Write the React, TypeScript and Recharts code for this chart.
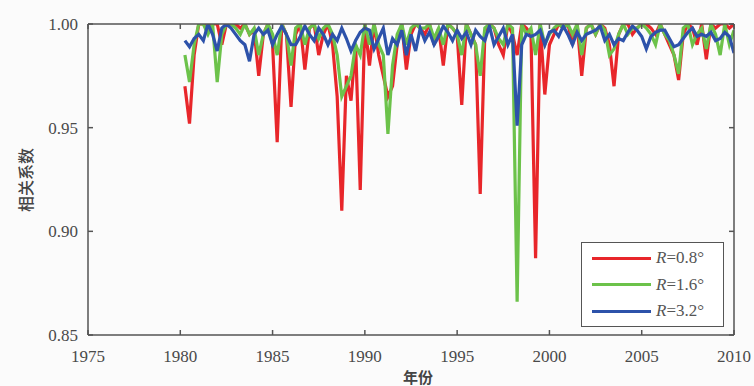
import { LineChart, Line, XAxis, YAxis, ReferenceLine } from "recharts";

// one value per quarter, years 1980..2009 (points at year+0.25 .. year+1.0)
const years = [
  1980, 1981, 1982, 1983, 1984, 1985, 1986, 1987, 1988, 1989,
  1990, 1991, 1992, 1993, 1994, 1995, 1996, 1997, 1998, 1999,
  2000, 2001, 2002, 2003, 2004, 2005, 2006, 2007, 2008, 2009,
];
const quarterOffsets = [0.25, 0.5, 0.75, 1.0];

const r08 = [
  0.970, 0.952, 0.985, 1.000, 1.000, 0.998, 1.000, 1.000, 0.990, 1.000, 1.000, 1.000,
  0.998, 1.000, 0.995, 0.997, 0.975, 0.995, 1.000, 0.990, 0.943, 1.000, 0.995, 0.960,
  0.995, 1.000, 0.978, 0.998, 1.000, 0.985, 0.995, 1.000, 0.990, 0.965, 0.910, 0.975,
  0.963, 0.990, 0.920, 1.000, 0.980, 1.000, 0.985, 0.975, 0.965, 0.970, 0.990, 1.000,
  0.978, 0.995, 1.000, 0.998, 0.995, 1.000, 0.990, 0.998, 0.980, 1.000, 0.998, 0.995,
  0.961, 1.000, 0.995, 0.990, 0.918, 0.995, 1.000, 0.998, 0.990, 0.985, 1.000, 0.995,
  0.985, 1.000, 0.998, 0.995, 0.887, 1.000, 0.966, 0.990, 0.995, 1.000, 0.998, 1.000,
  0.990, 1.000, 0.975, 0.998, 1.000, 0.995, 1.000, 0.998, 0.990, 0.970, 0.995, 1.000,
  1.000, 0.995, 0.998, 1.000, 1.000, 0.998, 0.995, 1.000, 0.995, 0.990, 0.985, 0.973,
  0.995, 1.000, 0.998, 0.990, 1.000, 0.983, 1.000, 0.998, 1.000, 1.000, 0.998, 1.000,
];

const r16 = [
  0.985, 0.972, 0.990, 1.000, 1.000, 0.995, 1.000, 0.972, 0.995, 1.000, 1.000, 0.998,
  0.995, 1.000, 0.995, 0.998, 0.985, 0.995, 1.000, 0.995, 0.985, 1.000, 0.995, 0.980,
  0.998, 1.000, 0.990, 0.998, 1.000, 0.993, 0.998, 1.000, 0.995, 0.985, 0.965, 0.970,
  0.975, 0.990, 0.985, 1.000, 0.990, 1.000, 0.990, 0.985, 0.947, 0.980, 0.995, 1.000,
  0.990, 0.998, 1.000, 0.998, 0.998, 1.000, 0.993, 0.998, 0.990, 1.000, 0.998, 0.995,
  0.985, 1.000, 0.995, 0.990, 0.975, 0.998, 1.000, 0.998, 0.993, 0.990, 1.000, 0.998,
  0.866, 1.000, 0.995, 0.998, 0.985, 1.000, 0.990, 0.995, 0.998, 1.000, 0.998, 1.000,
  0.995, 1.000, 0.985, 0.998, 1.000, 0.995, 1.000, 0.997, 0.985, 0.988, 0.995, 1.000,
  0.995, 0.998, 0.998, 1.000, 0.998, 0.995, 0.990, 1.000, 0.995, 0.992, 0.985, 0.976,
  0.998, 1.000, 0.990, 0.995, 0.998, 0.988, 1.000, 0.995, 0.985, 1.000, 0.990, 0.997,
];

const r32 = [
  0.992, 0.989, 0.993, 0.995, 0.992, 1.000, 0.995, 0.987, 0.998, 1.000, 0.998, 0.995,
  0.992, 0.990, 0.982, 0.995, 0.998, 0.995, 0.997, 0.990, 0.995, 0.999, 0.995, 0.990,
  0.990, 0.994, 0.999, 0.995, 0.992, 0.998, 0.995, 0.990, 0.995, 0.992, 0.998, 0.993,
  0.987, 0.992, 0.996, 0.998, 0.997, 0.988, 0.993, 0.998, 0.985, 0.993, 0.990, 0.997,
  0.985, 0.995, 0.987, 0.998, 0.992, 0.996, 0.990, 0.994, 0.999, 0.996, 0.992, 0.997,
  0.993, 0.996, 0.990, 0.997, 0.994, 0.992, 0.999, 0.990, 0.994, 0.998, 0.990, 0.995,
  0.951, 0.990, 0.995, 0.994, 0.995, 0.997, 0.990, 0.996, 0.997, 0.994, 0.999, 0.995,
  0.990, 0.996, 0.992, 0.995, 0.996, 0.997, 0.999, 0.992, 0.995, 0.990, 0.993, 0.992,
  0.996, 0.999, 0.997, 0.994, 0.988, 0.994, 0.996, 0.997, 0.997, 0.993, 0.989, 0.990,
  0.993, 0.996, 0.998, 0.994, 0.995, 0.994, 0.996, 0.992, 0.993, 0.996, 0.994, 0.986,
];

const xTicks = [1975, 1980, 1985, 1990, 1995, 2000, 2005, 2010];
const yTicks = [0.85, 0.9, 0.95, 1.0];

const series = [
  { key: "r08", name: "0.8°", color: "#e8262a" },
  { key: "r16", name: "1.6°", color: "#6cc24a" },
  { key: "r32", name: "3.2°", color: "#2d52aa" },
];

const data = years.flatMap((y, yi) =>
  quarterOffsets.map((q, qi) => {
    const i = yi * 4 + qi;
    return { t: y + q, r08: r08[i], r16: r16[i], r32: r32[i] };
  })
);

const axisColor = "#555";
const serif = "'Liberation Serif', 'DejaVu Serif', serif";

// plain svg text so the serif face is applied for sure
function XTick(props: any) {
  const { x, y, payload } = props;
  return (
    <text x={x} y={y + 27} textAnchor="middle" style={{ fontFamily: serif, fontSize: 17, fill: "#4a4a4a" }}>
      {payload.value}
    </text>
  );
}

function YTick(props: any) {
  const { x, y, payload } = props;
  return (
    <text x={x} y={y + 6} textAnchor="end" style={{ fontFamily: serif, fontSize: 17, fill: "#4a4a4a" }}>
      {Number(payload.value).toFixed(2)}
    </text>
  );
}

function LegendBox() {
  return (
    <div
      style={{
        position: "absolute",
        left: 581,
        top: 242,
        width: 143,
        height: 85,
        border: "1.5px solid #555",
        background: "#fff",
        fontFamily: serif,
        fontSize: 17,
        color: "#555",
        boxSizing: "border-box",
        padding: "2px 0 0 10px",
      }}
    >
      {series.map((s) => (
        <div key={s.key} style={{ display: "flex", alignItems: "center", height: 26.5 }}>
          <div style={{ width: 59, height: 3, background: s.color, marginRight: 5 }} />
          <span>
            <i>R</i>={s.name}
          </span>
        </div>
      ))}
    </div>
  );
}

export default function App() {
  return (
    <div
      style={{
        position: "absolute",
        left: 0,
        top: 0,
        width: 754,
        height: 386,
        background: "#fbfbfb",
        fontFamily: serif,
      }}
    >
      <LineChart width={754} height={386} data={data} margin={{ top: 24, right: 20, left: 0, bottom: 21 }}>
        <XAxis
          dataKey="t"
          type="number"
          domain={[1975, 2010]}
          ticks={xTicks}
          allowDataOverflow
          tickLine={false}
          tickSize={0}
          tickMargin={0}
          tick={<XTick />}
          axisLine={{ stroke: axisColor, strokeWidth: 1.5 }}
          height={30}
        />
        <YAxis
          type="number"
          domain={[0.85, 1.0]}
          ticks={yTicks}
          allowDataOverflow
          tickLine={false}
          tickSize={0}
          tickMargin={10}
          tick={<YTick />}
          axisLine={{ stroke: axisColor, strokeWidth: 1.5 }}
          width={88}
        />
        {series.map((s) => (
          <Line
            key={s.key}
            dataKey={s.key}
            name={s.name}
            stroke={s.color}
            strokeWidth={3.2}
            dot={false}
            type="linear"
            isAnimationActive={false}
          />
        ))}
        <ReferenceLine y={1.0} stroke={axisColor} strokeWidth={1.5} />
        <ReferenceLine x={2010} stroke={axisColor} strokeWidth={1.5} />
        {xTicks.map((x) => (
          <ReferenceLine key={"xb" + x} segment={[{ x, y: 0.85 }, { x, y: 0.8524 }]} stroke={axisColor} strokeWidth={1.5} />
        ))}
        {xTicks.map((x) => (
          <ReferenceLine key={"xt" + x} segment={[{ x, y: 1.0 }, { x, y: 0.9976 }]} stroke={axisColor} strokeWidth={1.5} />
        ))}
        {yTicks.map((y) => (
          <ReferenceLine key={"yl" + y} segment={[{ x: 1975, y }, { x: 1975.27, y }]} stroke={axisColor} strokeWidth={1.5} />
        ))}
        {yTicks.map((y) => (
          <ReferenceLine key={"yr" + y} segment={[{ x: 2010, y }, { x: 2009.73, y }]} stroke={axisColor} strokeWidth={1.5} />
        ))}
        <text
          x={25}
          y={180}
          transform="rotate(-90 25 180)"
          textAnchor="middle"
          dominantBaseline="central"
          style={{ fontFamily: "Noto Sans CJK SC", fontSize: 16, fontWeight: 500, fill: "#444" }}
        >
          相关系数
        </text>
        <text
          x={418}
          y={383}
          textAnchor="middle"
          style={{ fontFamily: "Noto Sans CJK SC", fontSize: 15, fontWeight: 700, fill: "#444" }}
        >
          年份
        </text>
      </LineChart>
      <LegendBox />
    </div>
  );
}
